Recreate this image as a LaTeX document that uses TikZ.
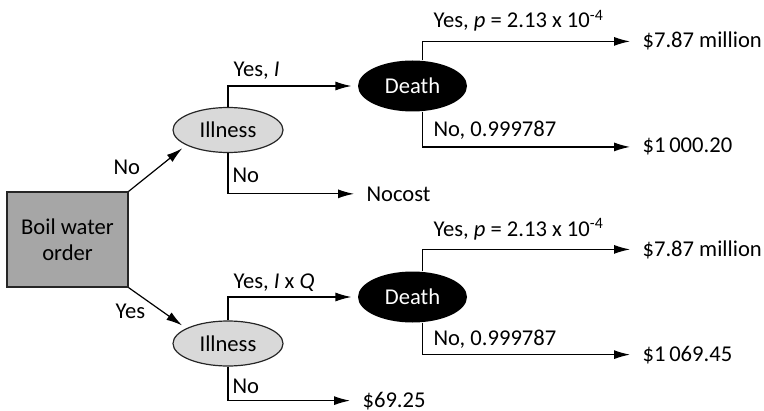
\documentclass[tikz,border=0pt]{standalone}
\usepackage{fontspec}
\setmainfont{Carlito}
\usetikzlibrary{shapes.geometric,arrows.meta}
\tikzset{every path/.style={line width=0.6pt},
  decision/.style={draw=black!85, fill=gray!70, minimum width=60.5pt, minimum height=47.5pt, align=center, inner sep=0pt},
  chance/.style={ellipse, draw=black!85, fill=gray!30, minimum width=55pt, minimum height=22.5pt, inner sep=0pt},
  fatal/.style={ellipse, fill=black, text=white, minimum width=54.5pt, minimum height=25.5pt, inner sep=0pt},
  branch/.style={anchor=base west, inner sep=0pt},
  payoff/.style={anchor=base west, inner sep=0pt},
  tip/.style={-{Latex[length=8pt,width=4.5pt]}},
  topay/.style={tip, shorten >=6pt}}

\begin{document}
\begin{tikzpicture}[x=0.5pt, y=-0.5pt, font=\fontsize{11.3}{13}\selectfont]
  \useasboundingbox (0,0) rectangle (764,411);

  \node[decision] (order)  at ( 67.5,239.5) {Boil water\\order};
  \node[chance]   (ill1)   at (228.0,130.0) {Illness};
  \node[chance]   (ill2)   at (228.0,343.5) {Illness};
  \node[fatal]    (death1) at (412.5, 86.0) {Death};
  \node[fatal]    (death2) at (412.5,297.0) {Death};

  \node[payoff] (cost1)  at (642, 48) {\$7.87 million};
  \node[payoff] (cost2)  at (642,153) {\$1\,000.20};
  \node[payoff] (nocost) at (366,201) {Nocost};
  \node[payoff] (cost3)  at (642,256) {\$7.87 million};
  \node[payoff] (cost4)  at (642,361) {\$1\,069.45};
  \node[payoff] (cost5)  at (362,407) {\$69.25};

  \node[branch] (no0)  at (113,175) {No};
  \node[branch] (yes0) at (115,318) {Yes};
  \node[branch] (yes1) at (233, 77) {Yes, \textit{I}};
  \node[branch] (no1)  at (232,183) {No};
  \node[branch] (yes2) at (233,288) {Yes, \textit{I} x \textit{Q}};
  \node[branch] (no2)  at (232,393) {No};
  \node[branch] (py1)  at (433, 28) {Yes, \textit{p} = 2.13 x 10\textsuperscript{-4}};
  \node[branch] (pn1)  at (433,137) {No, 0.999787};
  \node[branch] (py2)  at (433,236) {Yes, \textit{p} = 2.13 x 10\textsuperscript{-4}};
  \node[branch] (pn2)  at (433,345) {No, 0.999787};

  \draw[tip, shorten >=2.5pt] (order.north east) -- (ill1.200);
  \draw[tip, shorten >=2.5pt] (order.south east) -- (ill2.160);
  \draw[tip, shorten >=3pt] (ill1.north) |- (death1.west);
  \draw[topay] (ill1.south) |- (nocost.west);
  \draw[tip, shorten >=3pt] (ill2.north) |- (death2.west);
  \draw[topay] (ill2.south) |- (cost5.west);
  \draw[topay] ([xshift=5pt]death1.north) |- (cost1.west);
  \draw[topay] ([xshift=5pt]death1.south) |- (cost2.west);
  \draw[topay] ([xshift=5pt]death2.north) |- (cost3.west);
  \draw[topay] ([xshift=5pt]death2.south) |- (cost4.west);
\end{tikzpicture}
\end{document}
